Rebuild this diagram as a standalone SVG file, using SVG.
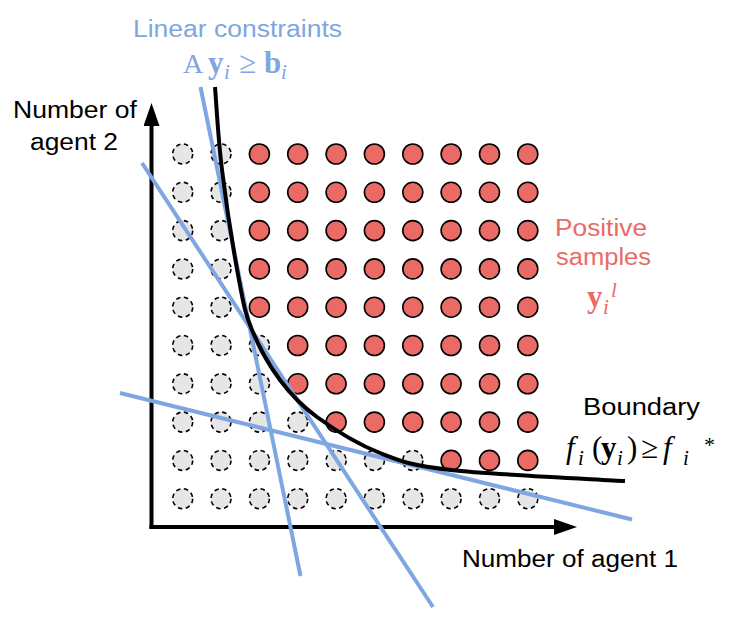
<svg xmlns="http://www.w3.org/2000/svg" width="748" height="620" viewBox="0 0 748 620">
<style>
.gray{fill:#e6e6e6;stroke:#000;stroke-width:1.6;stroke-dasharray:4.5,3.5}
.red{fill:#ea6b66;stroke:#000;stroke-width:1.6}
.blue{stroke:#7ea6e0;stroke-width:4;fill:none}
.sans{font-family:"Liberation Sans",Arial,sans-serif;font-size:23.5px}
.math{font-family:"Liberation Serif","Times New Roman",serif;font-size:31px}
.sub{font-size:21px;font-style:italic}
.it{font-style:italic}
.bd{font-weight:bold}
</style>
<defs>
<marker id="ah" viewBox="0 0 23 16" refX="0" refY="8" markerWidth="23" markerHeight="16" markerUnits="userSpaceOnUse" orient="auto">
<path d="M0,0 L23,8 L0,16 Z" fill="#000"/>
</marker>
</defs>
<rect width="748" height="620" fill="#fff"/>
<g id="samples">
<g id="row0"><circle class="gray" cx="182.7" cy="154" r="10"/><circle class="gray" cx="221" cy="154" r="10"/><circle class="red" cx="259.4" cy="154" r="10"/><circle class="red" cx="297.7" cy="154" r="10"/><circle class="red" cx="336.1" cy="154" r="10"/><circle class="red" cx="374.4" cy="154" r="10"/><circle class="red" cx="412.8" cy="154" r="10"/><circle class="red" cx="451.1" cy="154" r="10"/><circle class="red" cx="489.5" cy="154" r="10"/><circle class="red" cx="527.8" cy="154" r="10"/></g>
<g id="row1"><circle class="gray" cx="182.7" cy="192.3" r="10"/><circle class="gray" cx="221" cy="192.3" r="10"/><circle class="red" cx="259.4" cy="192.3" r="10"/><circle class="red" cx="297.7" cy="192.3" r="10"/><circle class="red" cx="336.1" cy="192.3" r="10"/><circle class="red" cx="374.4" cy="192.3" r="10"/><circle class="red" cx="412.8" cy="192.3" r="10"/><circle class="red" cx="451.1" cy="192.3" r="10"/><circle class="red" cx="489.5" cy="192.3" r="10"/><circle class="red" cx="527.8" cy="192.3" r="10"/></g>
<g id="row2"><circle class="gray" cx="182.7" cy="230.6" r="10"/><circle class="gray" cx="221" cy="230.6" r="10"/><circle class="red" cx="259.4" cy="230.6" r="10"/><circle class="red" cx="297.7" cy="230.6" r="10"/><circle class="red" cx="336.1" cy="230.6" r="10"/><circle class="red" cx="374.4" cy="230.6" r="10"/><circle class="red" cx="412.8" cy="230.6" r="10"/><circle class="red" cx="451.1" cy="230.6" r="10"/><circle class="red" cx="489.5" cy="230.6" r="10"/><circle class="red" cx="527.8" cy="230.6" r="10"/></g>
<g id="row3"><circle class="gray" cx="182.7" cy="268.9" r="10"/><circle class="gray" cx="221" cy="268.9" r="10"/><circle class="red" cx="259.4" cy="268.9" r="10"/><circle class="red" cx="297.7" cy="268.9" r="10"/><circle class="red" cx="336.1" cy="268.9" r="10"/><circle class="red" cx="374.4" cy="268.9" r="10"/><circle class="red" cx="412.8" cy="268.9" r="10"/><circle class="red" cx="451.1" cy="268.9" r="10"/><circle class="red" cx="489.5" cy="268.9" r="10"/><circle class="red" cx="527.8" cy="268.9" r="10"/></g>
<g id="row4"><circle class="gray" cx="182.7" cy="307.2" r="10"/><circle class="gray" cx="221" cy="307.2" r="10"/><circle class="red" cx="259.4" cy="307.2" r="10"/><circle class="red" cx="297.7" cy="307.2" r="10"/><circle class="red" cx="336.1" cy="307.2" r="10"/><circle class="red" cx="374.4" cy="307.2" r="10"/><circle class="red" cx="412.8" cy="307.2" r="10"/><circle class="red" cx="451.1" cy="307.2" r="10"/><circle class="red" cx="489.5" cy="307.2" r="10"/><circle class="red" cx="527.8" cy="307.2" r="10"/></g>
<g id="row5"><circle class="gray" cx="182.7" cy="345.5" r="10"/><circle class="gray" cx="221" cy="345.5" r="10"/><circle class="gray" cx="259.4" cy="345.5" r="10"/><circle class="red" cx="297.7" cy="345.5" r="10"/><circle class="red" cx="336.1" cy="345.5" r="10"/><circle class="red" cx="374.4" cy="345.5" r="10"/><circle class="red" cx="412.8" cy="345.5" r="10"/><circle class="red" cx="451.1" cy="345.5" r="10"/><circle class="red" cx="489.5" cy="345.5" r="10"/><circle class="red" cx="527.8" cy="345.5" r="10"/></g>
<g id="row6"><circle class="gray" cx="182.7" cy="383.8" r="10"/><circle class="gray" cx="221" cy="383.8" r="10"/><circle class="gray" cx="259.4" cy="383.8" r="10"/><circle class="red" cx="297.7" cy="383.8" r="10"/><circle class="red" cx="336.1" cy="383.8" r="10"/><circle class="red" cx="374.4" cy="383.8" r="10"/><circle class="red" cx="412.8" cy="383.8" r="10"/><circle class="red" cx="451.1" cy="383.8" r="10"/><circle class="red" cx="489.5" cy="383.8" r="10"/><circle class="red" cx="527.8" cy="383.8" r="10"/></g>
<g id="row7"><circle class="gray" cx="182.7" cy="422.1" r="10"/><circle class="gray" cx="221" cy="422.1" r="10"/><circle class="gray" cx="259.4" cy="422.1" r="10"/><circle class="gray" cx="297.7" cy="422.1" r="10"/><circle class="red" cx="336.1" cy="422.1" r="10"/><circle class="red" cx="374.4" cy="422.1" r="10"/><circle class="red" cx="412.8" cy="422.1" r="10"/><circle class="red" cx="451.1" cy="422.1" r="10"/><circle class="red" cx="489.5" cy="422.1" r="10"/><circle class="red" cx="527.8" cy="422.1" r="10"/></g>
<g id="row8"><circle class="gray" cx="182.7" cy="460.4" r="10"/><circle class="gray" cx="221" cy="460.4" r="10"/><circle class="gray" cx="259.4" cy="460.4" r="10"/><circle class="gray" cx="297.7" cy="460.4" r="10"/><circle class="gray" cx="336.1" cy="460.4" r="10"/><circle class="gray" cx="374.4" cy="460.4" r="10"/><circle class="gray" cx="412.8" cy="460.4" r="10"/><circle class="red" cx="451.1" cy="460.4" r="10"/><circle class="red" cx="489.5" cy="460.4" r="10"/><circle class="red" cx="527.8" cy="460.4" r="10"/></g>
<g id="row9"><circle class="gray" cx="182.7" cy="498.7" r="10"/><circle class="gray" cx="221" cy="498.7" r="10"/><circle class="gray" cx="259.4" cy="498.7" r="10"/><circle class="gray" cx="297.7" cy="498.7" r="10"/><circle class="gray" cx="336.1" cy="498.7" r="10"/><circle class="gray" cx="374.4" cy="498.7" r="10"/><circle class="gray" cx="412.8" cy="498.7" r="10"/><circle class="gray" cx="451.1" cy="498.7" r="10"/><circle class="gray" cx="489.5" cy="498.7" r="10"/><circle class="gray" cx="527.8" cy="498.7" r="10"/></g>
</g>
<g id="connectors">
<line id="axis-y" x1="151.5" y1="529" x2="151.5" y2="126" stroke="#000" stroke-width="4" marker-end="url(#ah)"/>
<line id="axis-x" x1="149.5" y1="527" x2="554" y2="527" stroke="#000" stroke-width="4" marker-end="url(#ah)"/>
<line id="constraint-a" class="blue" x1="200.5" y1="87" x2="300.5" y2="576"/>
<line id="constraint-b" class="blue" x1="142" y1="163" x2="433" y2="607"/>
<line id="constraint-c" class="blue" x1="120" y1="393" x2="632" y2="519.5"/>
<path id="boundary" d="M215,87 C216.2,100.8 218,137.8 222,170 C226,202.2 234,253.3 239,280 C244,306.7 245.2,313.3 252,330 C258.8,346.7 269.2,365.5 280,380 C290.8,394.5 300.3,404.8 317,417 C333.7,429.2 357.7,444.2 380,453 C402.3,461.8 410.2,465.3 451,470 C491.8,474.7 596,479.2 625,481" fill="none" stroke="#000" stroke-width="4"/>
</g>
<g id="label-constraints" fill="#7ea6e0">
<text class="sans" x="133" y="37" textLength="209" lengthAdjust="spacingAndGlyphs">Linear constraints</text>
<text class="math"><tspan x="183" y="73" style="font-size:28px">A</tspan><tspan class="bd" x="208" y="73">y</tspan><tspan class="sub" x="224" y="79">i</tspan><tspan x="239" y="73">≥</tspan><tspan class="bd" x="264" y="73">b</tspan><tspan class="sub" x="281" y="79">i</tspan></text>
</g>
<g id="label-y-axis" fill="#000">
<text class="sans" x="13" y="118" textLength="124" lengthAdjust="spacingAndGlyphs">Number of</text>
<text class="sans" x="30" y="150" textLength="88" lengthAdjust="spacingAndGlyphs">agent 2</text>
</g>
<g id="label-x-axis" fill="#000">
<text class="sans" x="462" y="567" textLength="216" lengthAdjust="spacingAndGlyphs">Number of agent 1</text>
</g>
<g id="label-positive" fill="#ea6b66">
<text class="sans" x="555" y="236" textLength="92" lengthAdjust="spacingAndGlyphs">Positive</text>
<text class="sans" x="556" y="265" textLength="95" lengthAdjust="spacingAndGlyphs">samples</text>
<text class="math"><tspan class="bd" x="587" y="307">y</tspan><tspan class="sub" x="603" y="314">i</tspan><tspan class="sub" x="611" y="297">l</tspan></text>
</g>
<g id="label-boundary" fill="#000">
<text class="sans" x="583" y="415" textLength="117" lengthAdjust="spacingAndGlyphs">Boundary</text>
<text class="math"><tspan class="it" x="566" y="458">f</tspan><tspan class="sub" x="578" y="465">i</tspan><tspan x="592" y="458">(</tspan><tspan class="bd" x="601" y="458">y</tspan><tspan class="sub" x="617" y="465">i</tspan><tspan x="627" y="458">)</tspan><tspan x="641" y="458">≥</tspan><tspan class="it" x="663" y="458">f</tspan><tspan class="sub" x="683" y="465">i</tspan><tspan x="704" y="452" style="font-size:22px">*</tspan></text>
</g>
</svg>
